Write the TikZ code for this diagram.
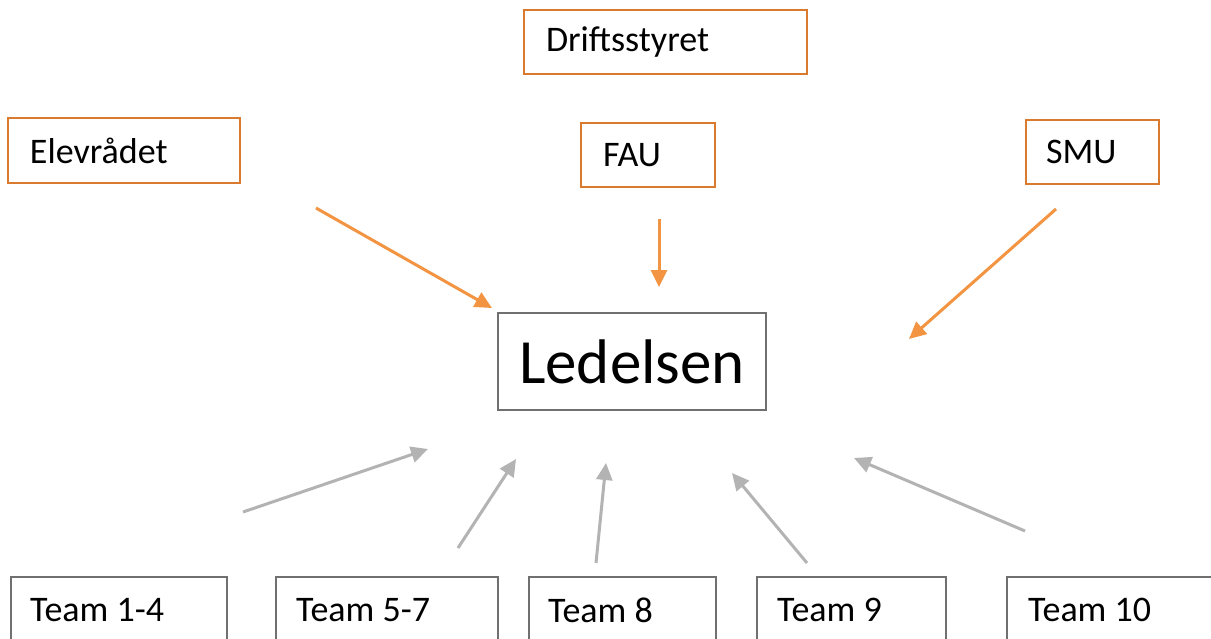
\documentclass[tikz,border=0pt]{standalone}
\usepackage{fontspec}
\setmainfont{Carlito}
\usetikzlibrary{arrows.meta}
\definecolor{obord}{HTML}{D97A2E}
\definecolor{oarrow}{HTML}{F29441}
\definecolor{gbord}{HTML}{707070}
\definecolor{garrow}{HTML}{B3B3B3}
\tikzset{
  obox/.style={draw=obord, line width=1.8pt, inner sep=0pt, align=left, font=\fontsize{36}{43}\selectfont},
  gbox/.style={draw=gbord, line width=1.8pt, inner sep=0pt},
  tlabel/.style={anchor=west, inner sep=0pt, font=\fontsize{36}{43}\selectfont},
  oarr/.style={draw=oarrow, line width=3pt, -{Triangle[length=17pt,width=16pt]}},
  garr/.style={draw=garrow, line width=3pt, -{Triangle[length=17pt,width=16pt]}}
}
\begin{document}
\begin{tikzpicture}[x=1pt,y=-1pt]
\clip (0,0) rectangle (1211,638);
\fill[white] (0,0) rectangle (1211,638);
% orange boxes
\node[obox, minimum width=283pt, minimum height=64pt, text width=239pt] (drift) at (665.5,42) {Driftsstyret};
\node[obox, minimum width=232pt, minimum height=65pt, text width=188pt] (elev) at (124,150.5) {Elevrådet};
\node[obox, minimum width=134pt, minimum height=64pt, text width=90pt] (fau) at (648,155) {FAU};
\node[obox, minimum width=133pt, minimum height=64pt, text width=93pt] (smu) at (1092.5,152) {SMU};
% center
\node[gbox, minimum width=268pt, minimum height=97pt, align=center, font=\fontsize{63}{75}\selectfont] (led) at (632,361.5) {Ledelsen};
% teams
\node[gbox, minimum width=216pt, minimum height=80pt, anchor=north west] (t1) at (10,576) {};
\node[tlabel] (t1t) at (30,610) {Team 1-4};
\node[gbox, minimum width=222pt, minimum height=80pt, anchor=north west] (t2) at (275,576) {};
\node[tlabel] (t2t) at (296,610) {Team 5-7};
\node[gbox, minimum width=187pt, minimum height=80pt, anchor=north west] (t3) at (528,576) {};
\node[tlabel] (t3t) at (548,610) {Team 8};
\node[gbox, minimum width=189pt, minimum height=80pt, anchor=north west] (t4) at (756,576) {};
\node[tlabel] (t4t) at (777,610) {Team 9};
\node[gbox, minimum width=230pt, minimum height=80pt, anchor=north west] (t5) at (1006,576) {};
\node[tlabel] (t5t) at (1028,610) {Team 10};
% arrow endpoints
\coordinate (a1s) at (316,208); \coordinate (a1e) at (492,308);
\coordinate (a2s) at (659,219); \coordinate (a2e) at (659,287);
\coordinate (a3s) at (1056,209); \coordinate (a3e) at (909,339);
\coordinate (b1s) at (243,512); \coordinate (b1e) at (428,449);
\coordinate (b2s) at (458,548); \coordinate (b2e) at (516,459);
\coordinate (b3s) at (596,563); \coordinate (b3e) at (606,463);
\coordinate (b4s) at (807,563); \coordinate (b4e) at (732,473);
\coordinate (b5s) at (1025,531); \coordinate (b5e) at (854,458);
\draw[oarr] (a1s) -- (a1e);
\draw[oarr] (a2s) -- (a2e);
\draw[oarr] (a3s) -- (a3e);
\draw[garr] (b1s) -- (b1e);
\draw[garr] (b2s) -- (b2e);
\draw[garr] (b3s) -- (b3e);
\draw[garr] (b4s) -- (b4e);
\draw[garr] (b5s) -- (b5e);
\end{tikzpicture}
\end{document}
